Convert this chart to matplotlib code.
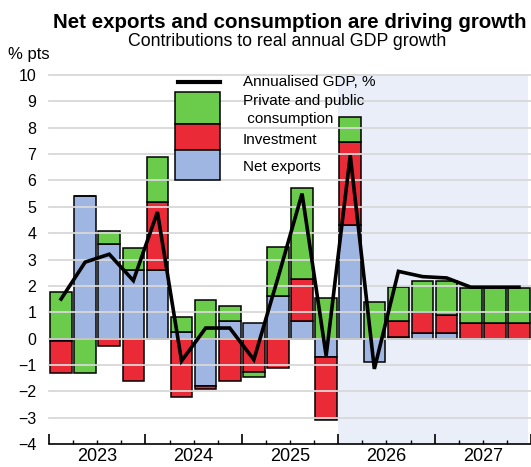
import numpy as np
import matplotlib
matplotlib.use("Agg")
import matplotlib.pyplot as plt
from matplotlib.patches import Rectangle

plt.rcParams["font.family"] = ["Liberation Sans", "DejaVu Sans"]

# quarterly data, 2023Q1 .. 2027Q4
years = ["2023", "2024", "2025", "2026", "2027"]
net_exports = [-0.1, 5.4, 3.6, 2.6, 2.6, 0.25, -1.8, 0.65, 0.6, 1.63,
               0.68, -0.7, 4.3, -0.88, 0.05, 0.2, 0.2, 0.0, 0.0, 0.0]
investment = [-1.2, 0.0, -0.3, -1.6, 2.6, -2.2, -0.1, -1.6, -1.25, -1.1,
              1.58, -2.4, 3.15, 0.0, 0.6, 0.8, 0.7, 0.6, 0.6, 0.6]
consumption = [1.75, -1.3, 0.5, 0.85, 1.7, 0.55, 1.45, 0.6, -0.22, 1.85,
               3.46, 1.55, 0.95, 1.38, 1.3, 1.2, 1.3, 1.3, 1.3, 1.3]
gdp = [1.5, 2.9, 3.2, 2.2, 4.8, -0.85, 0.4, 0.4, -0.8, 2.3,
       5.5, -0.65, 6.95, -1.15, 2.55, 2.35, 2.3, 1.95, 1.95, 1.95]
forecast_start = "2026"

green = "#6bcb4b"
red = "#ea2a36"
blue = "#9fb6e2"
shade = "#e9eef8"

fig = plt.figure(figsize=(5.31, 4.67), dpi=100)
ax = fig.add_axes([49 / 531, 23 / 467, 482 / 531, 369 / 467])

n = len(gdp)
x = np.arange(n)
xmax = -0.5 + 482 / 24.25

# forecast shading
fs = years.index(forecast_start) * 4 - 0.5
ax.axvspan(fs, xmax, color=shade, zorder=0, lw=0)

# stacked bars, positives up and negatives down
pos = np.zeros(n)
neg = np.zeros(n)
for vals, col in [(net_exports, blue), (investment, red), (consumption, green)]:
    v = np.array(vals)
    bottom = np.where(v >= 0, pos, neg)
    ax.bar(x, v, bottom=bottom, width=0.9, color=col, edgecolor="black",
           linewidth=1.1, zorder=2)
    pos = pos + np.clip(v, 0, None)
    neg = neg + np.clip(v, None, 0)

# gridlines drawn over the bars
for yv in range(-3, 11):
    ax.axhline(yv, color="#d8d8d8", lw=1.3, zorder=2.5, clip_on=False)

ax.plot(x, gdp, color="black", lw=2.6, zorder=4, solid_joinstyle="miter")

ax.set_xlim(-0.5, xmax)
ax.set_ylim(-4, 10)
ax.set_yticks(range(-4, 11))
ax.tick_params(axis="y", length=0, pad=9, labelsize=11.5)

ax.set_xticks(np.arange(-0.5, n + 0.5, 4))
ax.set_xticks(np.arange(-0.5, n + 0.5, 1), minor=True)
ax.set_xticklabels([])
ax.tick_params(axis="x", which="major", direction="in", length=7, width=1.2)
ax.tick_params(axis="x", which="minor", direction="in", length=3, width=1.0)
for i, yr in enumerate(years):
    ax.text(i * 4 + 1.5, -0.012, yr, transform=ax.get_xaxis_transform(),
            ha="center", va="top", fontsize=13)

for s in ["top", "right", "left"]:
    ax.spines[s].set_visible(False)
ax.spines["bottom"].set_linewidth(1.2)

# legend
def ax_x(px):
    return (px - 49) / 482

def ax_y(py):
    return (444 - py) / 369

ax.plot([ax_x(178), ax_x(220)], [ax_y(82), ax_y(82)], color="black", lw=3,
        transform=ax.transAxes, zorder=6)
for top, bot, col in [(92, 124, green), (124, 150, red), (150, 180, blue)]:
    ax.add_patch(Rectangle((ax_x(175), ax_y(bot)), ax_x(220) - ax_x(175),
                           ax_y(top) - ax_y(bot), transform=ax.transAxes,
                           facecolor=col, edgecolor="black", lw=1.1, zorder=6))
legend_texts = [("Annualised GDP, %", 243, 82),
                ("Private and public", 243, 101),
                (" consumption", 243, 119),
                ("Investment", 243, 140),
                ("Net exports", 243, 167)]
for txt, px, py in legend_texts:
    ax.text(ax_x(px), ax_y(py), txt, transform=ax.transAxes, fontsize=11,
            ha="left", va="center", zorder=6)

fig.text(290 / 531, 1 - 22 / 467, "Net exports and consumption are driving growth",
         ha="center", va="center", fontsize=14.8, fontweight="bold")
fig.text(287 / 531, 1 - 42 / 467, "Contributions to real annual GDP growth",
         ha="center", va="center", fontsize=12.8)
fig.text(8 / 531, 1 - 55 / 467, "% pts", ha="left", va="center", fontsize=12)

fig.savefig("out.png", dpi=100)
